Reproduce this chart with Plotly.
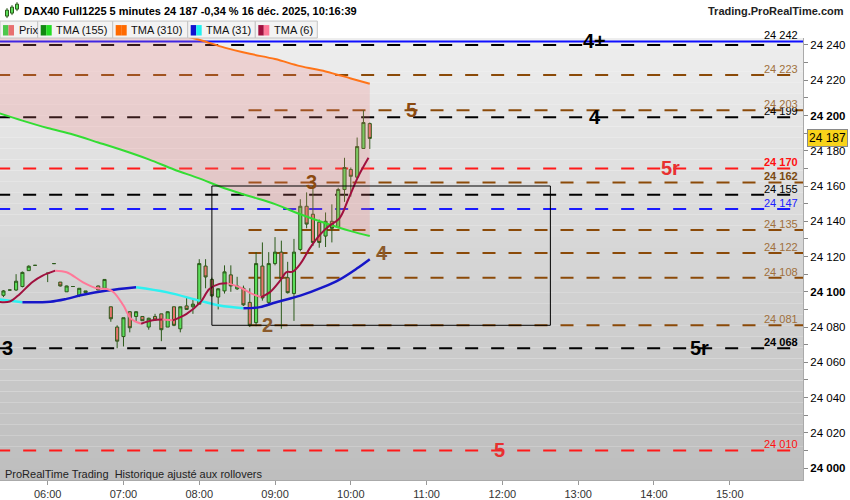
import plotly.graph_objects as go

DAY = "2025-12-16 "

# 5-minute bars (DAX40 Full1225)
bar_times = ["05:25", "05:30", "05:35", "05:40", "05:45", "05:50", "06:00", "06:05",
             "06:10", "06:15", "06:20", "06:25", "06:30", "06:40", "06:45", "06:50",
             "06:55", "07:00", "07:05", "07:10", "07:15", "07:20", "07:25", "07:30",
             "07:35", "07:40", "07:45", "07:50", "07:55", "08:00", "08:05", "08:10",
             "08:15", "08:20", "08:25", "08:30", "08:35", "08:40", "08:45", "08:50",
             "08:55", "09:00", "09:05", "09:10", "09:15", "09:20", "09:25", "09:30",
             "09:35", "09:40", "09:45", "09:50", "09:55", "10:00", "10:05", "10:10", "10:15"]
opens = [24098, 24101, 24101, 24103, 24112, 24115, 24110.5, 24116,
         24105.5, 24100, 24103, 24098, 24099.5, 24103.3, 24102, 24091.5,
         24080, 24074.6, 24088.7, 24086, 24086, 24080, 24086, 24087.5,
         24080, 24091.5, 24079, 24092, 24091.5, 24093, 24114.6, 24107,
         24097, 24100.5, 24109.6, 24101.7, 24102, 24094, 24082.5, 24114.6,
         24094, 24116, 24122.5, 24108, 24099, 24124, 24148.5, 24144,
         24139.5, 24131.6, 24140, 24136.7, 24158, 24169.4, 24165, 24181.3, 24195.4]
highs = [24101, 24101, 24110, 24111.5, 24115, 24115, 24110.5, 24116,
         24105.5, 24103.5, 24103, 24102, 24100.5, 24103.5, 24107, 24091.5,
         24081, 24085.3, 24089, 24089, 24086, 24085.3, 24087.5, 24087.5,
         24089, 24091.5, 24091.5, 24097, 24096, 24118.5, 24118.5, 24108,
         24102, 24115, 24115, 24108.5, 24103.5, 24102, 24122.5, 24128,
         24122.5, 24131, 24129, 24117, 24130, 24152.5, 24156.4, 24160,
         24141, 24145, 24149.6, 24159, 24176, 24170.5, 24187.5, 24203, 24196]
lows = [24097, 24101, 24100.5, 24102.5, 24112, 24115, 24105.5, 24116,
        24103, 24100, 24103, 24097, 24099.5, 24101, 24101.5, 24083,
        24068, 24069, 24077, 24083, 24083.5, 24078.5, 24084, 24072,
        24080, 24080.5, 24077, 24090, 24087.5, 24093, 24102, 24097,
        24090, 24099, 24100, 24101, 24092, 24080, 24080.5, 24095,
        24092, 24115, 24079, 24099, 24083.5, 24123, 24136, 24126,
        24125, 24125.4, 24128, 24136, 24151, 24154, 24164, 24181, 24181]
closes = [24100.5, 24101, 24106, 24111, 24114.5, 24115, 24110.5, 24116,
          24103.3, 24103.3, 24103, 24102, 24100.5, 24101, 24107, 24084.7,
          24072, 24085.3, 24079.6, 24088.7, 24083.6, 24085, 24084, 24078.5,
          24088.7, 24081, 24091.5, 24090, 24093, 24116, 24108.4, 24097.7,
          24101.7, 24111.3, 24103.3, 24103.3, 24092.6, 24081, 24116, 24096.5,
          24116, 24122.5, 24107.5, 24099.5, 24122.5, 24148.5, 24138.4, 24128,
          24128, 24140, 24136, 24158, 24170.5, 24165.5, 24182.4, 24196, 24187]

# moving averages
slow_times = ["05:20", "05:40", "06:00", "06:20", "06:40", "07:00", "07:20", "07:40",
              "08:00", "08:20", "08:40", "09:00", "09:20", "09:40", "10:00", "10:15"]
tma155 = [24201.6, 24197.1, 24192.9, 24189.2, 24184.7, 24180.1, 24175.1, 24169.4,
          24164.3, 24158.7, 24154.2, 24149.7, 24144.0, 24138.9, 24134.4, 24131.6]
tma310 = [24272, 24268, 24264, 24260, 24257, 24253, 24250, 24246.5,
          24243, 24238.5, 24235, 24232, 24228, 24225, 24221, 24218]

tma31_times = ["05:20", "05:40", "06:02", "06:15", "06:28", "06:47", "07:10", "07:34", "08:00",
               "08:16", "08:35", "08:48", "09:01", "09:20", "09:38", "09:51", "10:05", "10:15"]
tma31 = [24095.8, 24094.1, 24094.4, 24096.0, 24098.3, 24100.7, 24102.6, 24099.8, 24095.0,
         24092.2, 24090.7, 24091.3, 24094.1, 24097.8, 24102.6, 24106.9, 24113.3, 24118.5]

tma6_times = ["05:22", "05:30", "05:38", "05:48", "05:56", "06:06", "06:15", "06:28", "06:39",
              "06:47", "06:52", "07:00", "07:06", "07:14", "07:23", "07:31", "07:39", "07:50",
              "08:01", "08:08", "08:16", "08:22", "08:32", "08:42", "08:49", "08:56", "09:04",
              "09:09", "09:14", "09:20", "09:28", "09:36", "09:43", "09:51", "09:58", "10:06", "10:14"]
tma6 = [24094.2, 24094.5, 24098.8, 24105.6, 24109.2, 24112, 24111.1, 24105.4, 24102,
        24101.6, 24099.9, 24092.2, 24084.7, 24081.9, 24083.8, 24084.3, 24083.8, 24087.5,
        24094.1, 24101.6, 24104.5, 24104.9, 24102.6, 24098.8, 24097, 24099.8, 24106.3,
        24111.1, 24111.4, 24115.8, 24125.2, 24132.7, 24137.4, 24141.7, 24152.5, 24165.6, 24176]

# horizontal levels
black_levels = [24240, 24199, 24155, 24068]
red_levels = [24170, 24010]
blue_levels = [24147]
brown_full = [24223]
brown_levels = [24203, 24162, 24135, 24122, 24108, 24081]
blue_solid = 24242
last_price = 24187

# level markers drawn on the chart: (text, price, time, colour)
marks = [("4+", 24242, "13:13", "black"), ("4", 24199, "13:13", "black"),
         ("5", 24203, "10:48", "#8b4a10"), ("5r", 24170, "14:13", "#e83030"),
         ("3", 24162, "09:29", "#8b4a10"), ("4", 24122, "10:25", "#8b5a2b"),
         ("2", 24081, "08:54", "#8b5a2b"), ("3", 24068, "05:28", "black"),
         ("5r", 24068, "14:36", "black"), ("5", 24010, "11:58", "#e83030")]

y_ticks = [24000, 24020, 24040, 24060, 24080, 24100, 24120, 24140, 24160, 24180, 24200, 24220, 24240]
hours = ["06:00", "07:00", "08:00", "09:00", "10:00", "11:00", "12:00", "13:00", "14:00", "15:00"]


def t(s):
    return DAY + s


def fmt(v):
    return f"{int(v):,}".replace(",", " ")


def px(x):
    return x / 803


def py(y):
    return (482 - y) / 444


def runs(vals):
    out, start, cur = [], 0, None
    for k in range(1, len(vals)):
        up = vals[k] >= vals[k - 1]
        if cur is None:
            cur = up
        elif up != cur:
            out.append((start, k - 1, cur))
            start, cur = k - 1, up
    out.append((start, len(vals) - 1, cur))
    return out


fig = go.Figure()

# pink zone between TMA(155) and TMA(310)
fig.add_trace(go.Scatter(x=[t(s) for s in slow_times], y=tma155, mode="lines",
                         line=dict(width=0, shape="spline"), hoverinfo="skip"))
fig.add_trace(go.Scatter(x=[t(s) for s in slow_times], y=tma310, mode="lines",
                         line=dict(width=0, shape="spline"), fill="tonexty",
                         fillcolor="rgba(240,120,120,0.22)", hoverinfo="skip"))

fig.add_trace(go.Scatter(x=[t(s) for s in slow_times], y=tma310, mode="lines",
                         line=dict(color="#ff7418", width=2, shape="spline")))


def two_tone(times, vals, up_col, down_col, width):
    for s, e, up in runs(vals):
        fig.add_trace(go.Scatter(x=[t(v) for v in times[s:e + 1]], y=vals[s:e + 1], mode="lines",
                                 line=dict(color=up_col if up else down_col, width=width, shape="spline")))


two_tone(slow_times, tma155, "#118811", "#33dd33", 2)
two_tone(tma31_times, tma31, "#1616c8", "#2ef0f0", 2.5)

fig.add_trace(go.Candlestick(
    x=[t(s) for s in bar_times], open=opens, high=highs, low=lows, close=closes,
    increasing=dict(fillcolor="#5ade5a", line=dict(color="#2c5a1a", width=1)),
    decreasing=dict(fillcolor="#e8746c", line=dict(color="#2c5a1a", width=1)),
    whiskerwidth=0, hoverinfo="skip"))

two_tone(tma6_times, tma6, "#a0103e", "#ff7898", 2)

shapes = []
# grey gradient background
n = 40
for k in range(n):
    g = int(238 - (238 - 190) * k / (n - 1))
    shapes.append(dict(type="rect", xref="paper", yref="paper", x0=0, x1=1,
                       y0=1 - (k + 1) / n, y1=1 - k / n, fillcolor=f"rgb({g},{g},{g})",
                       line=dict(width=0), layer="below"))

x_start = t("05:20")
x_end = t("15:58")
x_brown = t("08:39")
dash = "13px,13px"
for v in black_levels:
    shapes.append(dict(type="line", xref="x", yref="y", x0=x_start, x1=x_end, y0=v, y1=v,
                       line=dict(color="black", width=2, dash=dash), layer="below"))
for v in red_levels:
    shapes.append(dict(type="line", xref="x", yref="y", x0=x_start, x1=x_end, y0=v, y1=v,
                       line=dict(color="#ff1a1a", width=2, dash=dash), layer="below"))
for v in blue_levels:
    shapes.append(dict(type="line", xref="x", yref="y", x0=x_start, x1=x_end, y0=v, y1=v,
                       line=dict(color="#1a1aff", width=2, dash=dash), layer="below"))
for v in brown_full:
    shapes.append(dict(type="line", xref="x", yref="y", x0=x_start, x1=x_end, y0=v, y1=v,
                       line=dict(color="#8b4a08", width=2, dash=dash), layer="below"))
for v in brown_levels:
    shapes.append(dict(type="line", xref="x", yref="y", x0=x_brown, x1=x_end, y0=v, y1=v,
                       line=dict(color="#8b4a08", width=2, dash=dash), layer="below"))
shapes.append(dict(type="line", xref="x", yref="y", x0=x_start, x1=x_end, y0=blue_solid, y1=blue_solid,
                   line=dict(color="#1010ff", width=2), layer="below"))

# drawn box
shapes.append(dict(type="rect", xref="x", yref="y", x0=t("08:10"), x1=t("12:38"), y0=24081, y1=24160,
                   line=dict(color="black", width=1)))

# header: title row and legend row
shapes.append(dict(type="rect", xref="paper", yref="paper", x0=px(0), x1=px(850), y0=py(38), y1=py(0),
                   fillcolor="white", line=dict(width=0)))
legend_items = [("Prix", 0, 37.7, "#4cc84c", "#e87070"), ("TMA (155)", 37.7, 112.7, "#118811", "#22dd22"),
                ("TMA (310)", 112.7, 187.7, "#ff6a00", "#ff6a00"), ("TMA (31)", 187.7, 255.3, "#1010d0", "#20f0f0"),
                ("TMA (6)", 255.3, 317.3, "#a0103e", "#ff7898")]
annotations = []
for name, a, b, c1, c2 in legend_items:
    shapes.append(dict(type="rect", xref="paper", yref="paper", x0=px(a), x1=px(b), y0=py(38), y1=py(21),
                       fillcolor="#f3f3f3", line=dict(color="#c4c4c4", width=1)))
    shapes.append(dict(type="rect", xref="paper", yref="paper", x0=px(a + 3), x1=px(a + 8.5), y0=py(35.5),
                       y1=py(25), fillcolor=c1, line=dict(width=0)))
    shapes.append(dict(type="rect", xref="paper", yref="paper", x0=px(a + 8.5), x1=px(a + 14), y0=py(35.5),
                       y1=py(25), fillcolor=c2, line=dict(width=0)))
    annotations.append(dict(xref="paper", yref="paper", x=px(a + 16.5), y=py(30), text=name, showarrow=False,
                            xanchor="left", yanchor="middle", font=dict(size=11, color="#111")))
# small candle icon
for cx, top, bot, wt, wb in [(7, 10, 16, 8, 18), (12, 7, 13, 5, 15), (17, 4, 9, 2, 11)]:
    shapes.append(dict(type="line", xref="paper", yref="paper", x0=px(cx), x1=px(cx), y0=py(wb), y1=py(wt),
                       line=dict(color="#2c5a1a", width=1)))
    shapes.append(dict(type="rect", xref="paper", yref="paper", x0=px(cx - 1.5), x1=px(cx + 1.5), y0=py(bot),
                       y1=py(top), fillcolor="#5ade5a", line=dict(color="#2c5a1a", width=1)))

annotations.append(dict(xref="paper", yref="paper", x=px(22), y=py(10.5),
                        text="<b>DAX40 Full1225 5 minutes 24 187 -0,34 % 16 déc. 2025, 10:16:39</b>",
                        showarrow=False, xanchor="left", yanchor="middle", font=dict(size=11, color="black")))
annotations.append(dict(xref="paper", yref="paper", x=px(846), y=py(10.5), text="<b>Trading.ProRealTime.com</b>",
                        showarrow=False, xanchor="right", yanchor="middle", font=dict(size=11, color="#222")))
annotations.append(dict(xref="paper", yref="paper", x=px(3), y=py(476),
                        text="ProRealTime Trading  Historique ajusté aux rollovers",
                        showarrow=False, xanchor="left", yanchor="middle", font=dict(size=11, color="#222")))

# price labels on the right end of the levels
label_specs = [(blue_solid, "black", False)] + [(v, "black", v == 24068) for v in black_levels if v != 24240] \
    + [(v, "#ff1010", v == 24170) for v in red_levels] + [(v, "#2020ff", False) for v in blue_levels] \
    + [(v, "#a0703c", False) for v in brown_full] \
    + [(v, "#7a4a10" if v == 24162 else "#a0703c", v == 24162) for v in brown_levels]
for v, col, bold in label_specs:
    txt = fmt(v)
    annotations.append(dict(xref="paper", yref="y", x=px(800), y=v, text=f"<b>{txt}</b>" if bold else txt,
                            showarrow=False, xanchor="right", yanchor="bottom", yshift=-2,
                            font=dict(size=11, color=col)))

for txt, v, tm, col in marks:
    annotations.append(dict(xref="x", yref="y", x=t(tm), y=v, text=f"<b>{txt}</b>", showarrow=False,
                            xanchor="center", yanchor="middle", font=dict(size=20, color=col)))

annotations.append(dict(xref="paper", yref="y", x=px(807), y=last_price, text=fmt(last_price), showarrow=False,
                        xanchor="left", yanchor="middle", bgcolor="#f8d31a", bordercolor="#8a8a8a",
                        borderwidth=1, borderpad=1, font=dict(size=12, color="black")))

fig.update_layout(
    width=850, height=500, margin=dict(l=0, r=47, t=38, b=18),
    paper_bgcolor="white", plot_bgcolor="rgba(0,0,0,0)", showlegend=False,
    font=dict(family="Arial, Liberation Sans, sans-serif", size=11, color="black"),
    shapes=shapes, annotations=annotations,
    xaxis=dict(type="date", range=[t("05:22:15"), t("15:58")], rangeslider=dict(visible=False),
               tickvals=[t(h) for h in hours], ticktext=hours, ticks="outside", ticklen=4,
               tickcolor="#999", showgrid=False, showline=True, linecolor="#aaa", zeroline=False,
               tickfont=dict(size=11, color="#333"), fixedrange=True),
    yaxis=dict(side="right", range=[23993.25, 24243.95], tickvals=y_ticks,
               ticktext=[f"<b>{fmt(v)}</b>" if v % 100 == 0 else fmt(v) for v in y_ticks],
               ticks="outside", ticklen=4, tickcolor="#888", showgrid=False, showline=True,
               linecolor="#aaa", zeroline=False, tickfont=dict(size=11.5, color="black"),
               minor=dict(tickmode="linear", tick0=0, dtick=10, ticks="outside", ticklen=4, tickcolor="#888"),
               fixedrange=True),
)

fig.write_html("out.html", config={"displayModeBar": False},
               post_script="document.body.style.margin='0';document.body.style.overflow='hidden';")
